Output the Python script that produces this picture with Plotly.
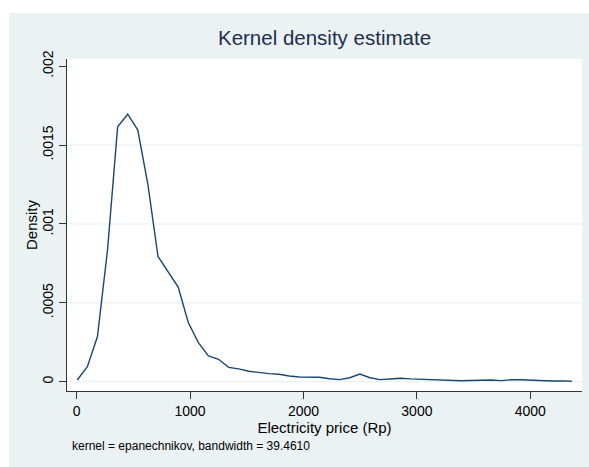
import plotly.graph_objects as go

# Evaluation grid (Rp) and estimated density at each grid point
price = [5, 94, 183, 272, 361, 450, 539, 628, 717, 806,
         895, 984, 1073, 1162, 1251, 1340, 1429, 1518, 1607, 1696,
         1785, 1874, 1963, 2052, 2141, 2230, 2319, 2408, 2497, 2586,
         2675, 2764, 2853, 2942, 3031, 3120, 3209, 3298, 3387, 3476,
         3565, 3654, 3743, 3832, 3921, 4010, 4099, 4188, 4277, 4366]
density = [0.000011, 0.000095, 0.000286, 0.000837, 0.001616, 0.001696, 0.001595, 0.00125, 0.000794, 0.000695,
           0.000600, 0.000375, 0.000248, 0.000163, 0.000142, 0.000091, 0.000081, 0.000066, 0.000057, 0.000051,
           0.000047, 0.000036, 0.000030, 0.000030, 0.000028, 0.000019, 0.000013, 0.000025, 0.000049, 0.000025,
           0.000013, 0.000017, 0.000022, 0.000018, 0.000015, 0.000013, 0.000011, 0.000009, 0.000006, 0.000008,
           0.000011, 0.000011, 0.000007, 0.000012, 0.000012, 0.000008, 0.000005, 0.000004, 0.000005, 0.000003]

x_ticks = [0, 1000, 2000, 3000, 4000]
x_tick_text = ["0", "1000", "2000", "3000", "4000"]
y_ticks = [0, 0.0005, 0.001, 0.0015, 0.002]
y_tick_text = ["0", ".0005", ".001", ".0015", ".002"]
y_grid = [0, 0.0005, 0.001, 0.0015]

title_text = "Kernel density estimate"
x_title = "Electricity price (Rp)"
y_title = "Density"
note_text = "kernel = epanechnikov, bandwidth = 39.4610"

W, H = 589, 467
L, R, T, B = 67, 582, 59, 391  # plot region in pixels
REGION = "#eaf2f3"
FONT = "Liberation Sans, Arial, sans-serif"

fig = go.Figure()
fig.add_trace(go.Scatter(
    x=price, y=density, mode="lines",
    line=dict(color="#1a476f", width=1.4),
    hoverinfo="skip", showlegend=False,
))

pw, ph = R - L, B - T

def px_x(p):
    return (p - L) / pw

def px_y(p):
    return (B - p) / ph

shapes = [
    # white margin strips above and left of the graph region
    dict(type="rect", xref="paper", yref="paper", layer="below",
         x0=px_x(0), x1=px_x(W), y0=px_y(13), y1=px_y(0),
         fillcolor="white", line=dict(width=0)),
    dict(type="rect", xref="paper", yref="paper", layer="below",
         x0=px_x(0), x1=px_x(9), y0=px_y(H), y1=px_y(0),
         fillcolor="white", line=dict(width=0)),
]
# horizontal gridlines at the interior y labels
for g in y_grid:
    shapes.append(dict(type="line", xref="paper", yref="y", layer="below",
                       x0=0, x1=1, y0=g, y1=g,
                       line=dict(color="#e4eef0", width=1)))

fig.update_layout(
    width=W, height=H, autosize=False,
    margin=dict(l=L, r=W - R, t=T, b=H - B, pad=0),
    paper_bgcolor=REGION, plot_bgcolor="white",
    font=dict(family=FONT, color="#000000", size=14),
    title=dict(text=title_text, font=dict(size=20.5, color="#1e2d4f", family=FONT),
               xref="paper", x=0.5, xanchor="center",
               yref="container", y=1 - 38 / H, yanchor="middle"),
    xaxis=dict(range=[-85.5, 4456], tickvals=x_ticks, ticktext=x_tick_text,
               ticks="outside", ticklen=7, tickwidth=1, tickcolor="#333333",
               showline=True, linecolor="#333333", linewidth=1,
               showgrid=False, zeroline=False,
               tickfont=dict(size=14),
               title=dict(text=x_title, font=dict(size=15), standoff=1)),
    yaxis=dict(range=[-0.000059, 0.002046], tickvals=y_ticks, ticktext=y_tick_text,
               ticks="outside", ticklen=7, tickwidth=1, tickcolor="#333333",
               tickangle=-90, ticklabelstandoff=0,
               showline=True, linecolor="#333333", linewidth=1,
               showgrid=False, zeroline=False,
               tickfont=dict(size=14)),
    shapes=shapes,
    annotations=[
        dict(text=y_title, xref="paper", yref="paper", textangle=-90,
             x=px_x(31), y=px_y(225), xanchor="center", yanchor="middle",
             showarrow=False, font=dict(size=15, family=FONT, color="#000000")),
        dict(text=note_text, xref="paper", yref="paper",
             x=px_x(70), y=px_y(446), xanchor="left", yanchor="middle",
             showarrow=False, font=dict(size=12, family=FONT, color="#000000")),
    ],
)

fig.write_html("out.html")
